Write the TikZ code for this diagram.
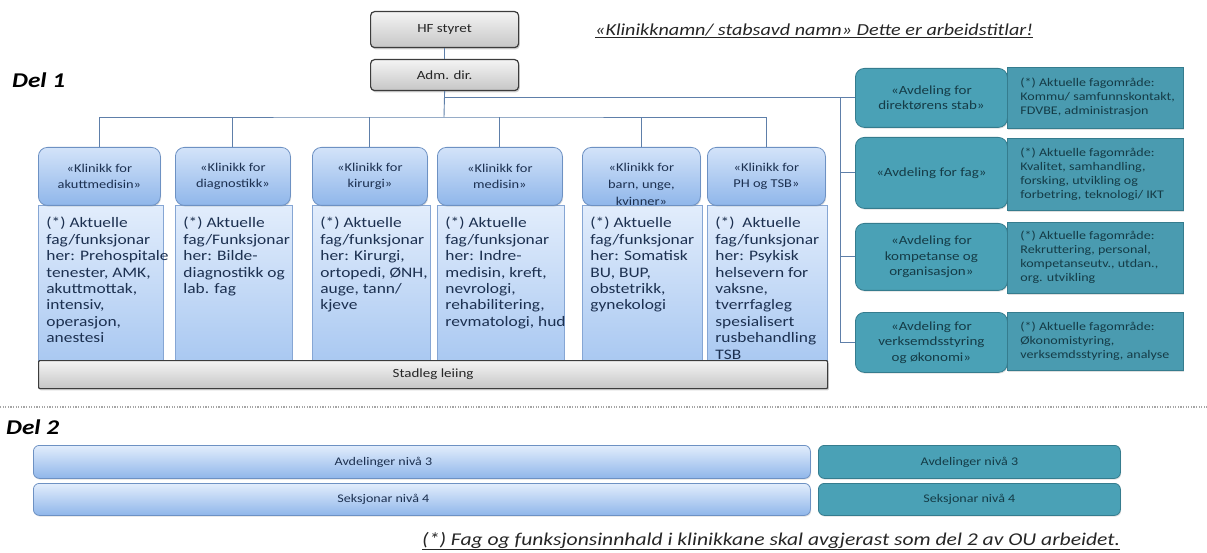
\documentclass[tikz,border=0pt]{standalone}
\usepackage{fontspec}
\setmainfont{Carlito}[FakeStretch=1.2]
\usetikzlibrary{shadows}
\definecolor{grayTop}{HTML}{F4F4F4}
\definecolor{grayBot}{HTML}{C6C6C6}
\definecolor{grayLine}{HTML}{3C3C3C}
\definecolor{hdrTop}{HTML}{D3E3F9}
\definecolor{hdrBot}{HTML}{8FB6EA}
\definecolor{hdrLine}{HTML}{6D91C3}
\definecolor{bodyTop}{HTML}{E2EDFC}
\definecolor{bodyBot}{HTML}{A9C8F1}
\definecolor{bodyLine}{HTML}{86A6D4}
\definecolor{navyText}{HTML}{1C3050}
\definecolor{tealFill}{HTML}{4AA1B6}
\definecolor{tealInfo}{HTML}{4A9BB0}
\definecolor{tealLine}{HTML}{357C8E}
\definecolor{tealText}{HTML}{153C47}
\definecolor{connCol}{HTML}{5E7FA9}
\definecolor{noteText}{HTML}{262626}
\tikzset{
  graybox/.style={draw=grayLine, line width=1.2pt, rounded corners=4pt,
    top color=grayTop, bottom color=grayBot, inner sep=0pt, anchor=north west,
    text=noteText, drop shadow={opacity=0.35, shadow xshift=1.2pt, shadow yshift=-1.8pt}},
  hdrbox/.style={draw=hdrLine, line width=0.8pt, rounded corners=9pt,
    top color=hdrTop, bottom color=hdrBot, inner sep=0pt, anchor=north west,
    align=center, text=navyText, font=\fontsize{12}{15.5}\selectfont,
    drop shadow={opacity=0.25, shadow xshift=0.8pt, shadow yshift=-1.2pt}},
  bodybox/.style={draw=bodyLine, line width=0.8pt,
    top color=bodyTop, bottom color=bodyBot, inner sep=0pt, anchor=north west,
    text=navyText},
  tealname/.style={draw=tealLine, line width=0.8pt, rounded corners=9pt,
    fill=tealFill, inner sep=0pt, anchor=north west, align=center,
    text=tealText, font=\fontsize{12.5}{15.5}\selectfont,
    drop shadow={opacity=0.25, shadow xshift=0.8pt, shadow yshift=-1.2pt}},
  tealinfo/.style={draw=tealLine, line width=0.8pt, fill=tealInfo,
    inner sep=0pt, anchor=north west, text=tealText,
    drop shadow={opacity=0.25, shadow xshift=0.8pt, shadow yshift=-1.2pt}},
  bluebar/.style={draw=hdrLine, line width=0.8pt, rounded corners=6pt,
    top color=bodyTop, bottom color=hdrBot, inner sep=0pt, anchor=north west,
    text=navyText, font=\fontsize{11.7}{14}\selectfont,
    drop shadow={opacity=0.25, shadow xshift=0.8pt, shadow yshift=-1.2pt}},
  tealbar/.style={draw=tealLine, line width=0.8pt, rounded corners=6pt,
    fill=tealFill, inner sep=0pt, anchor=north west,
    text=tealText, font=\fontsize{11.7}{14}\selectfont,
    drop shadow={opacity=0.25, shadow xshift=0.8pt, shadow yshift=-1.2pt}},
  conn/.style={draw=connCol, line width=0.9pt},
  delhead/.style={anchor=west, inner sep=0pt, font=\fontsize{21}{24}\selectfont\bfseries\itshape, text=black},
  notetext/.style={inner sep=0pt, text=noteText, font=\fontsize{16.8}{20}\selectfont\itshape}
}
\newcommand{\bodytext}[3]{\parbox[t][#2pt][t]{#1pt}{\vspace*{6pt}\fontsize{14.5}{16.4}\selectfont\begin{tabular}[t]{@{}l@{}}#3\end{tabular}}}
\newcommand{\infotext}[2]{\makebox[#1pt][l]{\fontsize{11.7}{14}\selectfont\begin{tabular}{@{}l@{}}#2\end{tabular}}}
\begin{document}
\begin{tikzpicture}[x=1pt,y=-1pt]
\useasboundingbox (0,0) rectangle (1207,553);

\coordinate (cb) at (444,117);
\coordinate (rb) at (840,0);

% ---------- top boxes ----------
\node[graybox, minimum width=148pt, minimum height=36pt, font=\fontsize{12.5}{15}\selectfont] (hf) at (370,11) {HF styret};
\node[graybox, minimum width=148pt, minimum height=31pt, font=\fontsize{12.5}{15}\selectfont] (adm) at (370,59) {Adm. dir.};

% ---------- right column ----------
\node[tealname, minimum width=152pt, minimum height=59pt] (a1) at (855,68) {«Avdeling for\\direktørens stab»};
\node[tealinfo, minimum width=176pt, minimum height=61pt] (i1) at (1007,67) {\infotext{150}{(*) Aktuelle fagområde:\\Kommu/ samfunnskontakt,\\FDVBE, administrasjon}};
\node[tealname, minimum width=152pt, minimum height=71pt] (a2) at (855,137) {«Avdeling for fag»};
\node[tealinfo, minimum width=176pt, minimum height=72pt] (i2) at (1007,138) {\infotext{150}{(*) Aktuelle fagområde:\\Kvalitet, samhandling,\\forsking, utvikling og\\forbetring, teknologi/ IKT}};
\node[tealname, minimum width=152pt, minimum height=67pt] (a3) at (855,223) {«Avdeling for\\kompetanse og\\organisasjon»};
\node[tealinfo, minimum width=176pt, minimum height=71pt] (i3) at (1007,222) {\infotext{150}{(*) Aktuelle fagområde:\\Rekruttering, personal,\\kompetanseutv., utdan.,\\org. utvikling}};
\node[tealname, minimum width=152pt, minimum height=60pt] (a4) at (855,312) {«Avdeling for\\verksemdsstyring\\og økonomi»};
\node[tealinfo, minimum width=176pt, minimum height=58pt] (i4) at (1007,312) {\infotext{150}{(*) Aktuelle fagområde:\\Økonomistyring,\\verksemdsstyring, analyse}};

% ---------- clinic bodies ----------
\node[bodybox, minimum width=125pt, minimum height=157pt] (b1) at (38,205) {\bodytext{109}{147}{(*) Aktuelle\\fag/funksjonar\\her: Prehospitale\\tenester, AMK,\\akuttmottak,\\intensiv,\\operasjon,\\anestesi}};
\node[bodybox, minimum width=117pt, minimum height=157pt] (b2) at (175,205) {\bodytext{101}{147}{(*) Aktuelle\\fag/Funksjonar\\her: Bilde-\\diagnostikk og\\lab. fag}};
\node[bodybox, minimum width=118pt, minimum height=157pt] (b3) at (312,205) {\bodytext{102}{147}{(*) Aktuelle\\fag/funksjonar\\her: Kirurgi,\\ortopedi, ØNH,\\auge, tann/\\kjeve}};
\node[bodybox, minimum width=127pt, minimum height=157pt] (b4) at (437,205) {\bodytext{111}{147}{(*) Aktuelle\\fag/funksjonar\\her: Indre-\\medisin, kreft,\\nevrologi,\\rehabilitering,\\revmatologi, hud}};
\node[bodybox, minimum width=120pt, minimum height=157pt] (b5) at (582,205) {\bodytext{104}{147}{(*) Aktuelle\\fag/funksjonar\\her: Somatisk\\BU, BUP,\\obstetrikk,\\gynekologi}};
\node[bodybox, minimum width=120pt, minimum height=157pt] (b6) at (707,205) {\bodytext{104}{147}{(*)\ \ Aktuelle\\fag/funksjonar\\her: Psykisk\\helsevern for\\vaksne,\\tverrfagleg\\spesialisert\\rusbehandling\\TSB}};

% ---------- clinic headers ----------
\node[hdrbox, minimum width=122pt, minimum height=58pt] (k1) at (38,147) {«Klinikk for\\akuttmedisin»};
\node[hdrbox, minimum width=115pt, minimum height=58pt] (k2) at (175,147) {«Klinikk for\\diagnostikk»};
\node[hdrbox, minimum width=115pt, minimum height=58pt] (k3) at (312,147) {«Klinikk for\\kirurgi»};
\node[hdrbox, minimum width=125pt, minimum height=58pt] (k4) at (437,147) {«Klinikk for\\medisin»};
\node[hdrbox, minimum width=118pt, minimum height=58pt, font=\fontsize{12}{17}\selectfont] (k5) at (582,147) {\rule{0pt}{24pt}«Klinikk for\\barn, unge,\\kvinner»};
\node[hdrbox, minimum width=118pt, minimum height=58pt] (k6) at (707,147) {«Klinikk for\\PH og TSB»};

% ---------- Stadleg leiing ----------
\node[graybox, rounded corners=1pt, minimum width=789pt, minimum height=28pt, font=\fontsize{12.5}{15}\selectfont] (sl) at (38,360) {Stadleg leiing};

% ---------- connectors ----------
\draw[conn] (hf.south) -- (adm.north);
\draw[conn] (adm.south) -- (cb);
\draw[conn] (k1.north) |- (cb) -| (k6.north);
\draw[conn] (k2.north) -- (k2.north |- cb);
\draw[conn] (k3.north) -- (k3.north |- cb);
\draw[conn] (k4.north) -- (k4.north |- cb);
\draw[conn] (k5.north) -- (k5.north |- cb);
\draw[conn] (adm.south |- a1.west) -- (a1.west);
\draw[conn] (rb |- a1.west) -- (rb |- a4.west) -- (a4.west);
\draw[conn] (rb |- a2.west) -- (a2.west);
\draw[conn] (rb |- a3.west) -- (a3.west);

% ---------- labels ----------
\node[delhead] (del1) at (12,80) {Del 1};
\node[delhead] (del2) at (6,427) {Del 2};
\node[notetext, anchor=west] (note) at (595,31) {\underline{«Klinikknamn/ stabsavd namn» Dette er arbeidstitlar!}};

% ---------- separator ----------
\draw[draw=gray!70, line width=1.6pt, dash pattern=on 1.2pt off 1.4pt] (0,407) -- (1207,407);

% ---------- Del 2 bars ----------
\node[bluebar, minimum width=777pt, minimum height=33pt] (lv3) at (33,445) {\makebox[777pt][c]{\hspace*{-77pt}Avdelinger nivå 3}};
\node[bluebar, minimum width=777pt, minimum height=32pt] (lv4) at (33,483) {\makebox[777pt][c]{\hspace*{-77pt}Seksjonar nivå 4}};
\node[tealbar, minimum width=302pt, minimum height=33pt] (rv3) at (818,445) {Avdelinger nivå 3};
\node[tealbar, minimum width=302pt, minimum height=32pt] (rv4) at (818,483) {Seksjonar nivå 4};

\node[notetext, anchor=west, font=\fontsize{18}{21}\selectfont\itshape] (foot) at (422,541) {\underline{(*) Fag og funksjonsinnhald i klinikkane skal avgjerast som del 2 av OU arbeidet.}};
\end{tikzpicture}
\end{document}
